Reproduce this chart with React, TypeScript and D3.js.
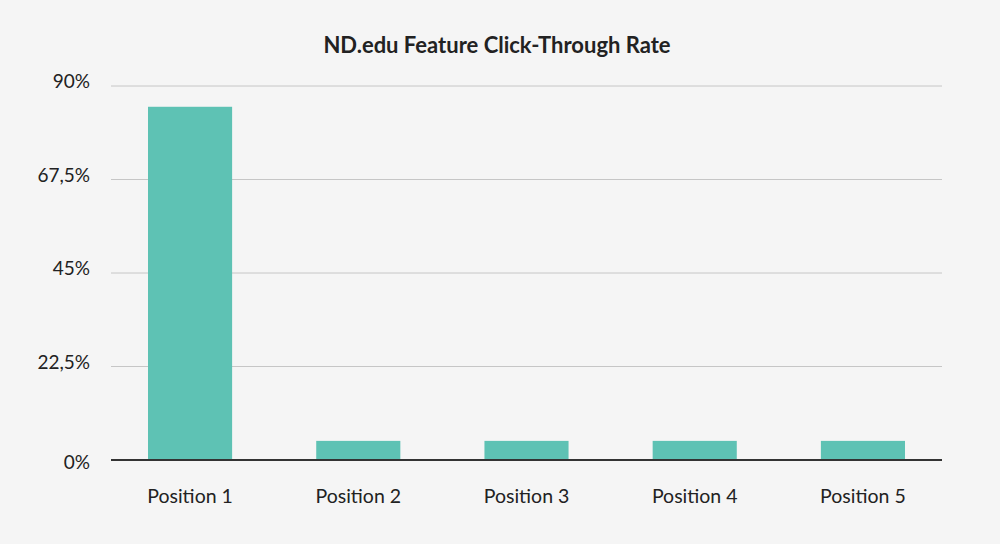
import React, { useEffect, useRef } from "react"
import * as d3 from "d3"

const categories = ["Position 1", "Position 2", "Position 3", "Position 4", "Position 5"]
const clickRates = [85, 4.6, 4.6, 4.6, 4.6]
const yTicks = [0, 22.5, 45, 67.5, 90]

const WIDTH = 1000
const HEIGHT = 544
const MARGIN = { top: 86, right: 58, bottom: 84, left: 111 }

export default function App() {
  const svgRef = useRef<SVGSVGElement>(null)

  useEffect(() => {
    document.body.style.margin = "0"
    const svg = svgRef.current
    if (!svg) return

    const innerW = WIDTH - MARGIN.left - MARGIN.right
    const innerH = HEIGHT - MARGIN.top - MARGIN.bottom

    d3.select(svg).selectAll("*").remove()
    const sel = d3.select(svg)

    sel.append("rect").attr("width", WIDTH).attr("height", HEIGHT).attr("fill", "#f5f5f5")

    sel
      .append("text")
      .attr("x", 497)
      .attr("y", 53)
      .attr("text-anchor", "middle")
      .attr("font-family", "Lato, sans-serif")
      .attr("font-weight", 700)
      .attr("font-size", 22)
      .attr("fill", "#222")
      .text("ND.edu Feature Click-Through Rate")

    const root = sel.append("g").attr("transform", `translate(${MARGIN.left},${MARGIN.top})`)

    const x = d3.scaleBand().domain(categories).range([0, innerW]).paddingInner(0.5).paddingOuter(0.22)
    const y = d3.scaleLinear().domain([0, 90]).range([innerH, 0])

    // Grid lines
    root
      .selectAll(".grid")
      .data(yTicks.filter((t) => t > 0))
      .join("line")
      .attr("class", "grid")
      .attr("x1", 0)
      .attr("x2", innerW)
      .attr("y1", (d) => y(d))
      .attr("y2", (d) => y(d))
      .attr("stroke", "#c6c6c6")
      .attr("stroke-width", 1)

    // Y axis labels (sit just above their grid line, 0% sits below the baseline)
    root
      .append("g")
      .call(
        d3
          .axisLeft(y)
          .tickValues(yTicks)
          .tickSize(0)
          .tickPadding(21)
          .tickFormat((d) => `${String(d).replace(".", ",")}%`)
      )
      .call((g) => g.select(".domain").remove())
      .call((g) =>
        g
          .selectAll<SVGTextElement, number>("text")
          .attr("fill", "#222")
          .attr("font-size", 19)
          .attr("font-family", "Lato, sans-serif")
          .attr("dy", (d) => (d === 0 ? "0.47em" : "0.1em"))
      )

    // Bars
    root
      .selectAll(".bar")
      .data(categories)
      .join("rect")
      .attr("class", "bar")
      .attr("x", (d) => x(d) ?? 0)
      .attr("y", (_, i) => y(clickRates[i]))
      .attr("width", x.bandwidth())
      .attr("height", (_, i) => innerH - y(clickRates[i]))
      .attr("fill", "#5ec2b4")

    // Baseline
    root
      .append("line")
      .attr("x1", 0)
      .attr("x2", innerW)
      .attr("y1", innerH)
      .attr("y2", innerH)
      .attr("stroke", "#333")
      .attr("stroke-width", 2)

    // X axis labels
    root
      .append("g")
      .attr("transform", `translate(0,${innerH})`)
      .call(d3.axisBottom(x).tickSize(0).tickPadding(29))
      .call((g) => g.select(".domain").remove())
      .call((g) =>
        g
          .selectAll("text")
          .attr("fill", "#222")
          .attr("font-size", 19.5)
          .attr("font-family", "Lato, sans-serif")
      )
  }, [])

  return <svg ref={svgRef} width={WIDTH} height={HEIGHT} style={{ display: "block" }} />
}
